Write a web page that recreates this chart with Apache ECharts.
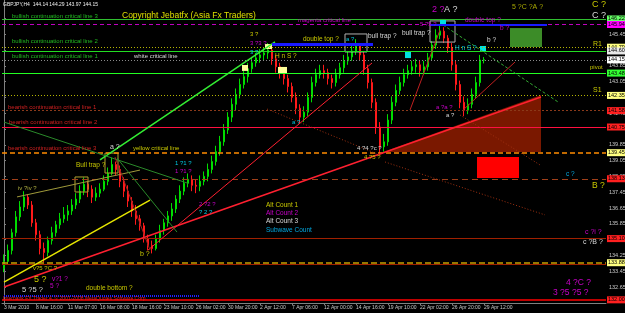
<!DOCTYPE html>
<html>
<head>
<meta charset="utf-8">
<script src="https://cdn.jsdelivr.net/npm/echarts/dist/echarts.min.js"></script>
<style>
html, body { margin: 0; padding: 0; background: #000; }
#main { width: 625px; height: 313px; }
</style>
</head>
<body>
<div id="main"></div>
<script>
// GBPJPY H4 candles (open = previous close)
var firstOpen = 133.60;
var closes = [133.95,134.5,135.4,136.2,136.7,137.2,136.8,135.9,135.3,134.6,
	134.4,135.0,135.4,135.8,136.1,136.3,136.5,136.8,137.1,137.5,
	137.85,137.6,137.2,137.4,137.6,138.0,138.4,138.85,138.6,138.0,
	137.5,137.0,136.5,136.1,135.75,135.1,134.75,134.6,135.1,135.5,
	135.9,136.25,136.6,137.1,137.5,137.9,138.1,137.8,137.75,138.0,
	138.25,138.6,139.0,139.5,140.0,140.6,141.25,141.9,142.4,142.9,
	143.3,143.7,144.0,144.25,144.4,144.5,144.65,144.2,143.8,143.5,
	143.2,142.8,142.25,141.7,141.25,141.5,142.25,143.0,143.4,143.6,
	143.5,143.2,143.0,143.4,143.75,144.1,144.3,144.6,144.9,144.4,
	143.7,143.0,142.0,140.75,139.75,140.0,141.1,142.0,142.6,143.0,
	143.4,143.6,143.8,143.9,143.6,143.8,144.25,144.9,145.4,145.6,
	145.25,144.75,143.9,142.9,142.0,141.6,141.9,142.4,143.0,144.14,
	144.15];
var highs = [134.3,134.8,135.6,136.5,137.0,137.5,137.35,137.0,136.1,135.5,
	134.9,135.2,135.7,136.0,136.4,136.7,136.8,137.1,137.4,137.8,
	138.2,138.0,137.8,137.7,137.9,138.3,138.7,139.2,139.0,138.8,
	138.2,137.8,137.2,136.8,136.3,135.9,135.3,135.0,135.3,135.8,
	136.1,136.5,136.9,137.3,137.8,138.2,138.4,138.3,138.1,138.3,
	138.5,138.9,139.3,139.8,140.3,140.9,141.5,142.2,142.7,143.2,
	143.6,144.0,144.3,144.5,144.7,144.8,145.0,144.8,144.4,144.0,
	143.7,143.4,143.0,142.5,141.9,141.8,142.5,143.3,143.7,143.9,
	143.9,143.7,143.4,143.7,144.0,144.4,144.6,144.9,145.2,145.0,
	144.6,143.9,143.2,142.2,141.0,140.4,141.4,142.3,142.9,143.3,
	143.7,143.9,144.1,144.2,144.1,144.1,144.5,145.1,145.7,145.95,
	145.8,145.4,145.0,144.1,143.1,142.3,142.2,142.7,143.3,144.4,
	144.29];
var lows = [133.4,133.8,134.3,135.2,136.0,136.5,136.6,135.7,135.0,134.3,
	133.9,134.2,134.8,135.2,135.6,135.9,136.0,136.3,136.6,136.9,
	137.3,137.2,136.9,137.0,137.2,137.5,137.8,138.3,138.3,137.7,
	137.2,136.7,136.2,135.8,135.5,134.9,134.5,134.35,134.5,134.9,
	135.3,135.7,136.0,136.4,136.9,137.3,137.7,137.5,137.4,137.5,
	137.8,138.0,138.4,138.8,139.3,139.8,140.4,141.0,141.6,142.2,
	142.7,143.0,143.5,143.8,144.0,144.1,144.2,143.9,143.5,143.2,
	142.9,142.5,142.0,141.4,140.9,141.0,141.3,142.0,142.8,143.2,
	143.2,142.9,142.7,142.8,143.2,143.5,143.9,144.1,144.4,144.1,
	143.4,142.7,141.7,140.4,139.4,139.5,139.8,140.9,141.8,142.4,
	142.8,143.2,143.4,143.5,143.3,143.4,143.6,144.1,144.7,145.2,
	145.0,144.5,143.6,142.6,141.7,141.3,141.4,141.7,142.2,142.8,
	143.97];

var dateLabels = ['3 Mar 2010','8 Mar 16:00','11 Mar 07:00','16 Mar 08:00','18 Mar 16:00',
	'23 Mar 10:00','26 Mar 02:00','30 Mar 20:00','2 Apr 12:00','7 Apr 06:00','12 Apr 00:00',
	'14 Apr 16:00','19 Apr 10:00','22 Apr 02:00','26 Apr 20:00','29 Apr 12:00'];
var dateTickIdx = [0,8,16,24,32,40,48,56,64,72,80,88,96,104,112,120];
var priceTicks = [132.65,133.45,134.25,135.05,135.85,136.65,137.45,138.25,139.05,
	139.85,140.65,141.45,142.25,143.05,143.85,144.65,145.45,146.25];

// horizontal critical lines / pivots
var levelPrices = [146.22,145.94,144.79,144.60,144.15,143.48,143.48,142.35,141.58,
	140.75,139.45,138.13,135.10,133.88,133.82,132.00];

// trend lines: [bar index, price] pairs
var trendLines = [
	[[24,139.08],[67.75,145.06]],
	[[0,132.9],[36.5,137.05]],
	[[3.25,137.21],[34,138.57]],
	[[0,132.65],[134.25,142.27]],
	[[36,134.52],[92,143.99]],
	[[109.75,145.92],[138.5,142.02]],
	[[101.5,141.61],[109,145.66]],
	[[114.75,141.61],[127.75,144.04]],
	[[65.75,141.66],[94,139.33]],
	[[95.25,138.98],[135.25,136.30]],
	[[114,141.36],[134,138.83]],
	[[0,141.0],[46,137.9]],
	[[27.75,139.23],[36.5,134.52]],
	[[28.25,139.18],[43.25,135.43]],
	[[67,144.95],[92.25,144.95]],
	[[106.5,145.92],[135.75,145.92]],
	[[0,132.19],[49,132.19]]
];
// boxes: [from bar, to bar, low price, high price]
var boxes = [
	[126.5,134.5,144.80,145.76],
	[118.25,128.75,138.17,139.23],
	[106.5,112.75,145.05,146.12],
	[85.25,90.75,144.55,145.46],
	[17.75,21,137.46,138.22],
	[25.25,28.5,138.42,139.43],
	[109,110.5,145.92,146.22],
	[100.25,101.75,144.24,144.55],
	[119,120.5,144.55,144.85],
	[59.5,61,143.59,143.89],
	[68.5,70.75,143.48,143.79],
	[65.25,67,144.70,144.95]
];
var wedge = [[94.75,139.49],[134.25,142.37],[134.25,139.49]];

var fam = 'Liberation Sans, Arial, sans-serif';

var levelStyles = [
	{c:'#2fbf2f', t:'solid', w:1, bg:'#66ff66'},
	{c:'#c000c0', t:[4,3], w:1, bg:'#ff00ff'},
	{c:'#b4b400', t:[1,2], w:1, bg:'#ffff80'},
	{c:'#22dd22', t:'solid', w:1, bg:'#e8e8e8'},
	{c:'#8a8a8a', t:[1,2], w:1, bg:'#ffffff'},
	{c:'#b4b400', t:[1,2], w:1, bg:null},
	{c:'#22ff22', t:'solid', w:1, bg:'#33ff33'},
	{c:'#b4b400', t:[1,2], w:1, bg:'#ffff80'},
	{c:'#8b3a1a', t:[2,2], w:1, bg:'#ff2020'},
	{c:'#ff1040', t:'solid', w:1.2, bg:'#ff2020'},
	{c:'#ff8c00', t:[5,3], w:1.5, bg:'#ffff80'},
	{c:'#a0401a', t:[6,4], w:1, bg:'#ff2020'},
	{c:'#a02000', t:'solid', w:1, bg:'#ff2020'},
	{c:'#c8a000', t:[6,3], w:1.5, bg:'#ffff80'},
	{c:'#a02000', t:'solid', w:1, bg:null},
	{c:'#ff0000', t:'solid', w:1.5, bg:'#ff2020'}
];
var trendStyles = [
	{color:'#33ee33', width:1.5, type:'solid'},
	{color:'#e6e600', width:1.5, type:'solid'},
	{color:'#a09a3a', width:1, type:'solid'},
	{color:'#ff2030', width:1.5, type:'solid'},
	{color:'#ff2030', width:1, type:'solid'},
	{color:'#33aa33', width:1, type:[3,2]},
	{color:'#c02020', width:1, type:'solid'},
	{color:'#c02020', width:1, type:'solid'},
	{color:'#a03010', width:1, type:[1,2]},
	{color:'#a03010', width:1, type:[1,2]},
	{color:'#a03010', width:1, type:[1,2]},
	{color:'#2a8a2a', width:1, type:'solid'},
	{color:'#a02020', width:1, type:'solid'},
	{color:'#2a8a2a', width:1, type:'solid'},
	{color:'#1a1aff', width:3, type:'solid'},
	{color:'#1a1aff', width:2, type:'solid'},
	{color:'#2020ff', width:2, type:[1,1]}
];
var boxStyles = [
	{fill:'#3c8c28'}, {fill:'#ff0000'},
	{stroke:'#b0b0b0'}, {stroke:'#b0b0b0'},
	{stroke:'#b0a030'}, {stroke:'#b0a030'},
	{fill:'#00e0e0'}, {fill:'#00e0e0'}, {fill:'#00e0e0'},
	{fill:'#ffff99'}, {fill:'#ffff99'}, {fill:'#ffff99'}
];

// annotations: text, x, y, colour, size
var notes = [
	['GBPJPY,H4  144.14 144.29 143.97 144.15', 3, 2, '#f0f0f0', 5],
	['bullish continuation critical line 3', 12, 13, '#22bb22', 6],
	['Copyright Jebatfx (Asia Fx Traders)', 122, 11, '#e0e000', 8.5],
	['magenta critical line', 298, 17, '#c800c8', 6],
	['double top ?', 465, 17, '#c800c8', 6.5],
	['bullish continuation critical line 2', 12, 38, '#22bb22', 6],
	['double top ?', 303, 36, '#c8c800', 6.5],
	['bull trap ?', 368, 33, '#d8d8d8', 6.5],
	['bull trap ?', 402, 30, '#d8d8d8', 6.5],
	['bullish continuation critical line 1', 12, 53, '#22bb22', 6],
	['white critical line', 134, 53, '#d8d8d8', 6],
	['H n S ?', 275, 53, '#c8c800', 6.5],
	['H n S ?', 455, 45, '#00c8e0', 6.5],
	['b ?', 487, 37, '#d8d8d8', 6.5],
	['b ?', 500, 25, '#c800c8', 6.5],
	['R1', 593, 41, '#c8c800', 7],
	['pivot', 590, 64, '#c8c800', 6],
	['S1', 593, 87, '#c8c800', 7],
	['bearish continuation critical line 1', 8, 104, '#d02020', 6],
	['bearish continuation critical line 2', 9, 119, '#d02020', 6],
	['bearish continuation critical line 3', 8, 145, '#d02020', 6],
	['yellow critical line', 133, 145, '#c8c800', 6],
	['a ?', 110, 144, '#d8d8d8', 7],
	['Bull trap ?', 76, 162, '#c8c800', 6.5],
	['1 ?1 ?', 175, 160, '#00c8e0', 6],
	['1 ?1 ?', 175, 168, '#c800c8', 6],
	['iv ?iv ?', 18, 185, '#b0b040', 6],
	['2 ?2 ?', 199, 201, '#c800c8', 6],
	['? 2 ?', 199, 209, '#00c8e0', 6],
	['b ?', 140, 251, '#c8c800', 7],
	['Alt Count 1', 266, 202, '#c8c800', 6.5],
	['Alt Count 2', 266, 210, '#c800c8', 6.5],
	['Alt Count 3', 266, 218, '#d8d8d8', 6.5],
	['Subwave Count', 266, 227, '#00a8e0', 6.5],
	['double bottom ?', 86, 285, '#c8c800', 6.5],
	['Interbank FX Trader 4, \u00a9 2001-2008 MetaQuotes Software Corp.', 3, 296, '#e02020', 5],
	['v?5 ?C ?', 33, 265, '#c8c800', 6],
	['5 ?', 34, 275, '#c8c800', 9],
	['v?1 ?', 52, 276, '#c800c8', 6.5],
	['5 ?', 50, 283, '#c800c8', 6.5],
	['5 ?5 ?', 22, 286, '#d8d8d8', 7.5],
	['3 ?', 250, 31, '#c8c800', 6],
	['3 ?3 ?', 250, 40, '#c800c8', 6],
	['3 ?', 250, 49, '#00c8e0', 6],
	['a ?', 346, 36, '#00c8e0', 6],
	['2 ?', 432, 5, '#c800c8', 9],
	['A ?', 444, 5, '#d8d8d8', 9],
	['5 ?5 ?', 420, 21, '#c800c8', 6],
	['5 ?C ?A ?', 512, 4, '#a8a800', 7],
	['C ?', 592, 0, '#c8c800', 9],
	['C ?', 592, 11, '#d8d8d8', 9],
	['a ?a ?', 436, 104, '#c800c8', 6],
	['a ?', 446, 112, '#d8d8d8', 6],
	['a ?', 292, 119, '#00c8e0', 6],
	['4 ?4 ?c ?', 357, 145, '#d8d8d8', 6],
	['4 ?5 ?', 364, 154, '#c8c800', 6],
	['c ?', 566, 171, '#00a8e0', 6.5],
	['B ?', 592, 181, '#c8c800', 8.5],
	['c ?i ?', 585, 229, '#c800c8', 7],
	['c ?B ?', 583, 239, '#d8d8d8', 7],
	['4 ?C ?', 566, 278, '#c800c8', 8.5],
	['3 ?5 ?5 ?', 553, 288, '#c800c8', 8.5]
];

// build candles [index, open, close, low, high]
var candles = [];
for (var i = 0; i < closes.length; i++) {
	var o = i === 0 ? firstOpen : closes[i - 1];
	candles.push([i, o, closes[i], lows[i], highs[i]]);
}

var levelData = levelPrices.map(function(p, k) {
	var s = levelStyles[k];
	return {
		yAxis: p,
		lineStyle: { color: s.c, type: s.t, width: s.w },
		label: s.bg ? {
			show: true, position: 'end', distance: 1,
			formatter: p.toFixed(2), backgroundColor: s.bg, color: '#000',
			fontSize: 5.5, fontFamily: fam, padding: [1, 1, 0, 1]
		} : { show: false }
	};
});

var trendData = trendLines.map(function(seg, k) {
	return [{ coord: seg[0], lineStyle: trendStyles[k] }, { coord: seg[1] }];
});

var myChart = echarts.init(document.getElementById('main'));

option = {
	backgroundColor: '#000000',
	animation: false,
	grid: { left: 2, right: 19, top: 0, bottom: 10, outerBoundsMode: 'none' },
	xAxis: {
		type: 'value', min: -0.5, max: 150.5,
		axisLine: { lineStyle: { color: '#808080' } },
		axisTick: { customValues: dateTickIdx, length: 2, lineStyle: { color: '#808080' } },
		axisLabel: {
			customValues: dateTickIdx,
			formatter: function(v) { return dateLabels[dateTickIdx.indexOf(v)] || ''; },
			fontSize: 5, color: '#c8c8c8', align: 'left', margin: 2, fontFamily: fam
		},
		splitLine: { show: false }
	},
	yAxis: {
		type: 'value', position: 'right', min: 131.84, max: 147.18,
		axisLine: { show: true, lineStyle: { color: '#808080' } },
		axisTick: { show: true, customValues: priceTicks, length: 2, lineStyle: { color: '#808080' } },
		axisLabel: {
			customValues: priceTicks,
			formatter: function(v) { return v.toFixed(2); },
			fontSize: 5.5, color: '#c8c8c8', margin: 3, fontFamily: fam
		},
		splitLine: { show: false }
	},
	series: [{
		type: 'custom',
		z: 1,
		silent: true,
		data: [[0, 140]],
		renderItem: function(params, api) {
			var pts = wedge.map(function(p) { return api.coord(p); });
			return { type: 'polygon', shape: { points: pts }, style: { fill: '#7a1800' } };
		}
	}, {
		type: 'line',
		data: [],
		silent: true,
		markLine: { symbol: ['none', 'none'], silent: true, animation: false, data: levelData }
	}, {
		type: 'custom',
		z: 4,
		silent: true,
		data: boxes.map(function(b) { return [b[0], b[2]]; }),
		renderItem: function(params, api) {
			var b = boxes[params.dataIndex];
			var st = boxStyles[params.dataIndex];
			var a = api.coord([b[0], b[3]]);
			var c = api.coord([b[1], b[2]]);
			return {
				type: 'rect',
				shape: { x: a[0], y: a[1], width: c[0] - a[0], height: c[1] - a[1] },
				style: { fill: st.fill || 'transparent', stroke: st.stroke || null, lineWidth: 1 }
			};
		}
	}, {
		type: 'candlestick',
		z: 3,
		data: candles,
		encode: { x: 0, y: [1, 2, 3, 4] },
		barWidth: 2,
		itemStyle: {
			color: '#00dd00', color0: '#ff1a1a',
			borderColor: '#00dd00', borderColor0: '#ff1a1a', borderWidth: 1
		}
	}, {
		type: 'line',
		data: [],
		z: 5,
		silent: true,
		markLine: { symbol: ['none', 'none'], silent: true, animation: false, label: { show: false }, data: trendData }
	}],
	graphic: notes.map(function(n) {
		return {
			type: 'text', x: n[1], y: n[2], silent: true, z: 100,
			style: { text: n[0], fill: n[3], fontSize: n[4], fontFamily: fam, verticalAlign: 'top' }
		};
	})
};

myChart.setOption(option);
</script>
</body>
</html>
